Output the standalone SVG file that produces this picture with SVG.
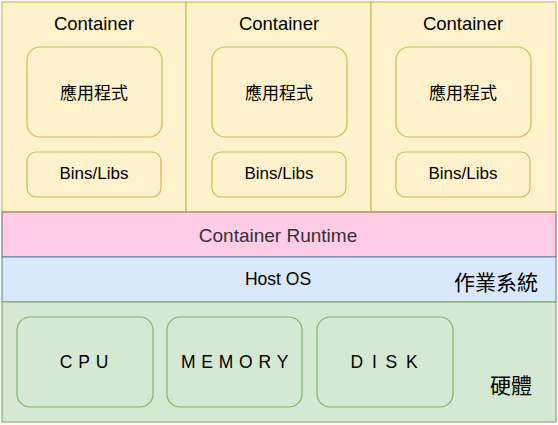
<svg xmlns="http://www.w3.org/2000/svg" width="558" height="425" viewBox="0 0 558 425">
<style>
.t{font-family:"Liberation Sans",Arial,sans-serif;fill:#000;text-anchor:middle}
.cjk{font-family:"Liberation Sans","Noto Sans CJK TC",sans-serif;fill:#000;text-anchor:middle}
.ct{fill:#fff2cc;stroke:#d6b656;stroke-width:1.2}
.hw{fill:#d5e8d4;stroke:#82b366;stroke-width:1.2}
.sp{font-size:17.5px;letter-spacing:5.8px}
</style>
<rect width="558" height="425" fill="#fff"/>
<g id="container1">
<rect class="ct" x="2" y="2" width="184" height="210"/>
<text class="t" x="94" y="30" font-size="18.5">Container</text>
<g id="app1"><rect class="ct" x="27" y="47" width="135" height="90" rx="13"/><text class="cjk" x="94" y="99" font-size="17">應用程式</text></g>
<g id="bins1"><rect class="ct" x="27" y="152" width="134" height="45" rx="9"/><text class="t" x="94" y="179" font-size="17">Bins/Libs</text></g>
</g>
<g id="container2">
<rect class="ct" x="186" y="2" width="185" height="210"/>
<text class="t" x="279" y="30" font-size="18.5">Container</text>
<g id="app2"><rect class="ct" x="212" y="47" width="135" height="90" rx="13"/><text class="cjk" x="279" y="99" font-size="17">應用程式</text></g>
<g id="bins2"><rect class="ct" x="212" y="152" width="134" height="45" rx="9"/><text class="t" x="279" y="179" font-size="17">Bins/Libs</text></g>
</g>
<g id="container3">
<rect class="ct" x="371" y="2" width="185" height="210"/>
<text class="t" x="463" y="30" font-size="18.5">Container</text>
<g id="app3"><rect class="ct" x="396" y="47" width="135" height="90" rx="13"/><text class="cjk" x="463" y="99" font-size="17">應用程式</text></g>
<g id="bins3"><rect class="ct" x="396" y="152" width="134" height="45" rx="9"/><text class="t" x="463" y="179" font-size="17">Bins/Libs</text></g>
</g>
<g id="runtime">
<rect x="2" y="212" width="554" height="45" fill="#ffcce6" stroke="#666" stroke-width="1"/>
<line x1="2" y1="212" x2="556" y2="212" stroke="#d6b656" stroke-width="1.2"/>
<text class="t" x="278" y="242" font-size="19" style="fill:#333">Container Runtime</text>
</g>
<g id="hostos">
<rect x="2" y="257" width="554" height="45" fill="#dae8fc" stroke="#6c8ebf" stroke-width="1.2"/>
<text class="t" x="278" y="285" font-size="17.5">Host OS</text>
<text class="cjk" x="496" y="290" font-size="21">作業系統</text>
</g>
<g id="hardware">
<rect class="hw" x="2" y="302" width="554" height="120"/>
<text class="cjk" x="511" y="393" font-size="21">硬體</text>
<g id="cpu"><rect class="hw" x="17" y="317" width="136" height="90" rx="13"/><text class="t sp" x="87" y="368">CPU</text></g>
<g id="memory"><rect class="hw" x="167" y="317" width="135" height="90" rx="13"/><text class="t sp" x="237.5" y="368">MEMORY</text></g>
<g id="disk"><rect class="hw" x="317" y="317" width="136" height="90" rx="13"/><text class="t sp" x="388.5" y="368" style="letter-spacing:8.8px">DISK</text></g>
</g>
<g id="connectors"/>
</svg>
